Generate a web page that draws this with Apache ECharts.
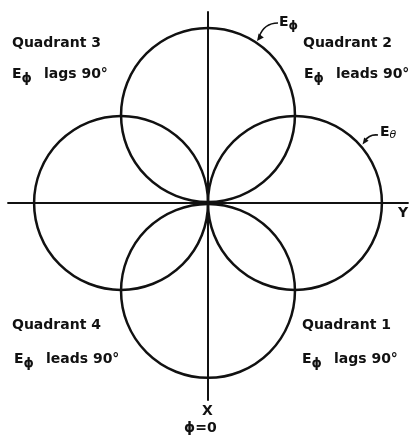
<!DOCTYPE html>
<html>
<head>
<meta charset="utf-8">
<script src="https://cdn.jsdelivr.net/npm/echarts@6/dist/echarts.min.js"></script>
<style>
html,body{margin:0;padding:0;background:#fff;}
#main{width:414px;height:435px;}
</style>
</head>
<body>
<div id="main"></div>
<script>
// circle patterns: centre (x, y) and radius, in axis units
var circleName = ['Eϕ', 'Eθ', 'Eϕ', 'Eθ'];
var circleX = [0, 1, 0, -1];
var circleY = [1, 0, -1, 0];
var circleR = [1, 1, 1, 1];

// quadrant notes
var quadTitle = ['Quadrant 3', 'Quadrant 2', 'Quadrant 4', 'Quadrant 1'];
var quadNote = ['lags 90°', 'leads 90°', 'leads 90°', 'lags 90°'];

var circleData = [];
for (var i = 0; i < circleX.length; i++) {
    circleData.push({name: circleName[i], value: [circleX[i], circleY[i], circleR[i]]});
}

var font = 'DejaVu Sans';
var ink = '#111';

function noteText(x, y, t) {
    return {
        type: 'text', left: x, top: y,
        style: {
            text: '{e|E}{s|ϕ}{g| }' + t,
            fill: ink, font: 'bold 14px "' + font + '"',
            rich: {
                e: {fontFamily: font, fontWeight: 'bold', fontSize: 14, fill: ink},
                s: {fontFamily: font, fontWeight: 'bold', fontSize: 13, fill: ink, padding: [9, 0, 0, 0]},
                g: {fontFamily: font, fontSize: 14, width: 12}
            }
        }
    };
}
function plainText(x, y, t) {
    return {
        type: 'text', left: x, top: y,
        style: {text: t, fill: ink, font: 'bold 14px "' + font + '"'}
    };
}

var graphics = [
    plainText(12, 36, quadTitle[0]),
    noteText(12, 67, quadNote[0]),
    plainText(303, 36, quadTitle[1]),
    noteText(304, 67, quadNote[1]),
    plainText(12, 318, quadTitle[2]),
    noteText(14, 352, quadNote[2]),
    plainText(302, 318, quadTitle[3]),
    noteText(302, 352, quadNote[3]),
    // axis names
    plainText(398, 206, 'Y'),
    plainText(202, 404, 'X'),
    plainText(184, 421, 'ϕ=0'),
    // pattern labels with leaders
    {
        type: 'text', left: 279, top: 15,
        style: {
            text: '{e|E}{s|ϕ}', fill: ink,
            rich: {
                e: {fontFamily: font, fontWeight: 'bold', fontSize: 14, fill: ink},
                s: {fontFamily: font, fontWeight: 'bold', fontSize: 12, fill: ink, padding: [7, 0, 0, 0]}
            }
        }
    },
    {
        type: 'text', left: 380, top: 125,
        style: {
            text: '{e|E}{s|θ}', fill: ink,
            rich: {
                e: {fontFamily: font, fontWeight: 'bold', fontSize: 14, fill: ink},
                s: {fontFamily: font, fontStyle: 'italic', fontSize: 11, fill: ink, padding: [7, 0, 0, 0]}
            }
        }
    },
    {
        type: 'bezierCurve',
        shape: {x1: 278, y1: 23, cpx1: 264, cpy1: 23, x2: 259, y2: 37},
        style: {stroke: ink, lineWidth: 1.6, fill: 'none'}
    },
    {
        type: 'polygon',
        shape: {points: [[257, 41], [263.8, 37.4], [258.6, 33.4]]},
        style: {fill: ink}
    },
    {
        type: 'bezierCurve',
        shape: {x1: 378, y1: 135, cpx1: 369, cpy1: 134, x2: 365, y2: 141},
        style: {stroke: ink, lineWidth: 1.6, fill: 'none'}
    },
    {
        type: 'polygon',
        shape: {points: [[362.5, 144.5], [368.6, 140.8], [364.2, 137.4]]},
        style: {fill: ink}
    }
];

var myChart = echarts.init(document.getElementById('main'));

var option = {
    backgroundColor: '#fff',
    animation: false,
    grid: {left: 8, right: 6, top: 12, bottom: 35},
    xAxis: {
        type: 'value', min: -2.3, max: 2.3,
        axisLine: {onZero: true, lineStyle: {color: ink, width: 1.8}},
        axisTick: {show: false}, axisLabel: {show: false}, splitLine: {show: false}
    },
    yAxis: {
        type: 'value', min: -2.24, max: 2.17,
        axisLine: {onZero: true, lineStyle: {color: ink, width: 2}},
        axisTick: {show: false}, axisLabel: {show: false}, splitLine: {show: false}
    },
    series: [{
        type: 'custom',
        data: circleData,
        renderItem: function (params, api) {
            var c = api.coord([api.value(0), api.value(1)]);
            var s = api.size([api.value(2), api.value(2)]);
            return {
                type: 'circle',
                shape: {cx: c[0], cy: c[1], r: s[0]},
                style: {fill: 'none', stroke: ink, lineWidth: 2.5}
            };
        }
    }],
    graphic: graphics
};

myChart.setOption(option);
</script>
</body>
</html>
